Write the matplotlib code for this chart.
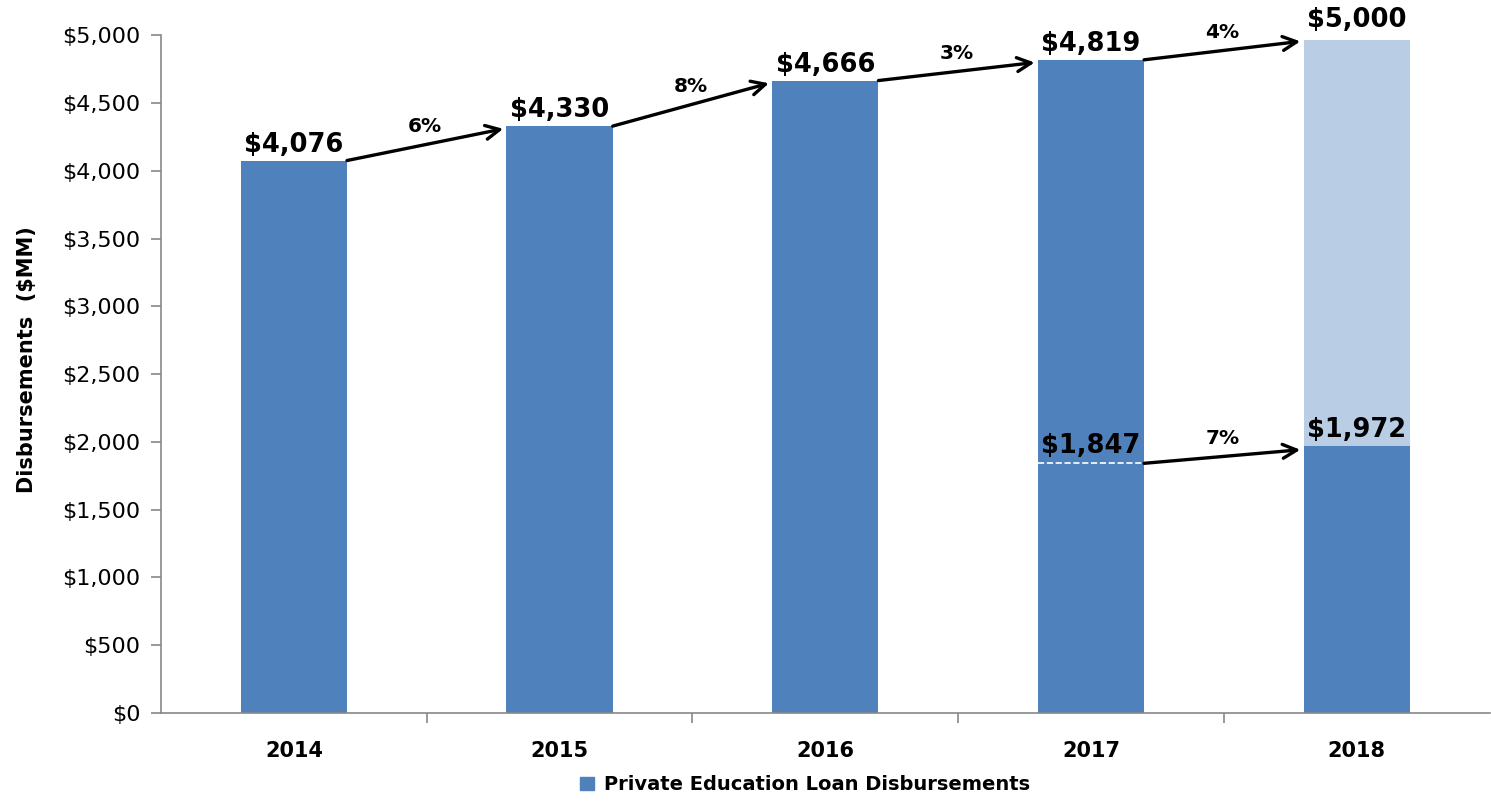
import numpy as np
import matplotlib.pyplot as plt
from matplotlib.ticker import FuncFormatter, FixedLocator
from matplotlib.patches import Patch

years = ['2014', '2015', '2016', '2017', '2018']
totals = [4076, 4330, 4666, 4819, 1972]
total_labels = ['$4,076', '$4,330', '$4,666', '$4,819', '$1,972']
growth = ['6%', '8%', '3%']

# 2018 forecast on top of the actual piece
forecast_total = 4965
forecast_label = '$5,000'
growth_2018 = '4%'

# year-to-date comparison
ytd_2017 = 1847
ytd_2017_label = '$1,847'
ytd_growth = '7%'

dark = '#4F81BD'
light = '#B9CDE5'
w = 0.4

fig = plt.figure(figsize=(14.91, 8.02), dpi=100)
ax = fig.add_axes([0.108, 0.111, 0.891, 0.845])

x = np.arange(len(years))
ax.bar(x, totals, width=w, color=dark, zorder=2)
ax.bar(x[4], forecast_total - totals[4], bottom=totals[4], width=w, color=light, zorder=2)

ax.set_xlim(-0.5, 4.5)
ax.set_ylim(0, 5000)

# white dashed line for 2017 YTD
ax.plot([x[3] - w / 2, x[3] + w / 2], [ytd_2017, ytd_2017], color='white',
        ls='--', lw=1.2, zorder=3)

lab_kw = dict(ha='center', va='bottom', fontsize=18.5, fontweight='bold', zorder=5)
for i in range(4):
    ax.text(x[i], totals[i] + 20, total_labels[i], **lab_kw)
ax.text(x[4], forecast_total + 55, forecast_label, **lab_kw)
ax.text(x[4], totals[4] + 20, total_labels[4], **lab_kw)
ax.text(x[3], ytd_2017 + 25, ytd_2017_label, **lab_kw)


def arrow(x0, y0, x1, y1, txt):
    ax.annotate('', xy=(x1, y1), xytext=(x0, y0),
                arrowprops=dict(arrowstyle='->,head_length=1.0,head_width=0.5',
                                lw=2.4, color='black', shrinkA=0, shrinkB=0), zorder=6)
    ax.annotate(txt, xy=((x0 + x1) / 2, (y0 + y1) / 2), xytext=(0, 6),
                textcoords='offset points', ha='center', va='bottom',
                fontsize=14.5, fontweight='bold')


for i in range(3):
    arrow(x[i] + w / 2, totals[i], x[i + 1] - w / 2 - 0.012, totals[i + 1] - 20, growth[i])
arrow(x[3] + w / 2, totals[3], x[4] - w / 2 - 0.012, forecast_total - 10, growth_2018)
arrow(x[3] + w / 2, ytd_2017 - 5, x[4] - w / 2 - 0.012, totals[4] - 30, ytd_growth)

# axes styling
for s in ['top', 'right']:
    ax.spines[s].set_visible(False)
for s in ['left', 'bottom']:
    ax.spines[s].set_color('#888888')
    ax.spines[s].set_linewidth(1.2)

ax.set_yticks(np.arange(0, 5001, 500))
ax.yaxis.set_major_formatter(FuncFormatter(lambda v, p: '${:,.0f}'.format(v)))
ax.tick_params(axis='y', labelsize=16, length=7, color='#888888', width=1.2, pad=8)

ax.set_xticks(x)
ax.set_xticklabels(years, fontsize=15, fontweight='bold')
ax.tick_params(axis='x', which='major', length=0, pad=20)
ax.xaxis.set_minor_locator(FixedLocator([0.5, 1.5, 2.5, 3.5]))
ax.tick_params(axis='x', which='minor', length=7, color='#888888', width=1.2)

ax.set_ylabel('Disbursements  ($MM)', fontsize=15, fontweight='bold')
ax.yaxis.set_label_coords(-0.093, 0.521)

fig.legend(handles=[Patch(color=dark, label='Private Education Loan Disbursements')],
           loc='lower center', bbox_to_anchor=(0.54, -0.012), frameon=False,
           prop=dict(size=14, weight='bold'), handlelength=0.7, handleheight=0.7,
           handletextpad=0.5)

fig.savefig('out.png', dpi=100)
